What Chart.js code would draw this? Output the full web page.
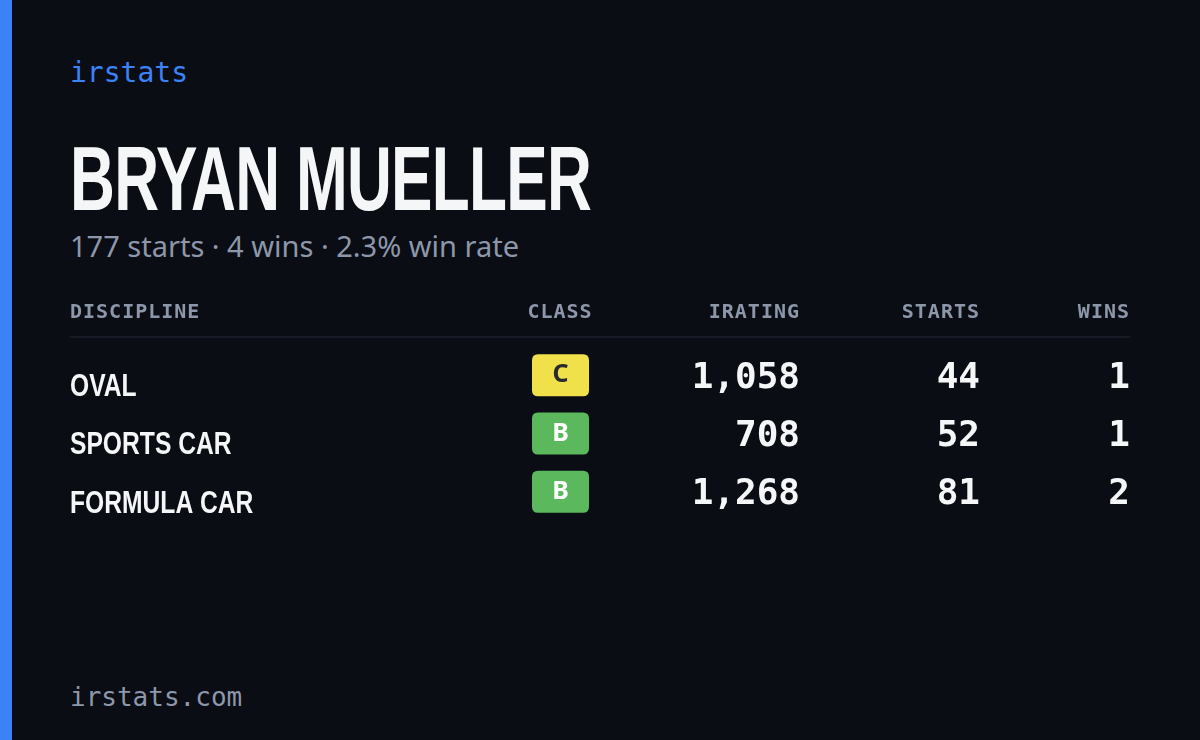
<!DOCTYPE html>
<html><head><meta charset="utf-8">
<script src="https://cdn.jsdelivr.net/npm/chart.js@4"></script>
<style>
body{margin:0;width:1200px;height:740px;background:#0a0d14;position:relative;overflow:hidden;font-family:"Noto Sans",sans-serif}
#strip{position:absolute;left:0;top:0;width:12px;height:740px;background:#3b82f6}
.brand{position:absolute;left:70px;top:56px;font:28px "DejaVu Sans Mono",monospace;color:#3b82f6}
.name{position:absolute;left:70px;top:128px;font:bold 90px "Liberation Sans Narrow","Liberation Sans",sans-serif;color:#f5f6f8;letter-spacing:-1px;transform:scaleX(0.69);transform-origin:left}
.sub{position:absolute;left:70px;top:226px;font:29px "Noto Sans",sans-serif;color:#8d97aa}
.foot{position:absolute;left:70px;top:682px;font:26px "DejaVu Sans Mono",monospace;color:#8d97aa}
#wrap{position:absolute;left:70px;top:290px;width:1060px;height:240px}
</style></head><body>
<div id="strip"></div>
<div class="brand">irstats</div>
<div class="name">BRYAN MUELLER</div>
<div class="sub">177 starts · 4 wins · 2.3% win rate</div>
<div id="wrap"><canvas id="mycanvas" width="1060" height="240" style="width:1060px;height:240px"></canvas></div>
<div class="foot">irstats.com</div>
<script>
var disciplines = ["OVAL", "SPORTS CAR", "FORMULA CAR"];
var classes = ["C", "B", "B"];
var iratings = [1058, 708, 1268];
var starts = [44, 52, 81];
var wins = [1, 1, 2];
var headers = ["DISCIPLINE", "CLASS", "IRATING", "STARTS", "WINS"];

var classColors = {A: "#3b82f6", B: "#5cb85c", C: "#f0e04a", D: "#f0a030", R: "#e05050"};
var classText = {A: "#ffffff", B: "#ffffff", C: "#2a2a2a", D: "#2a2a2a", R: "#ffffff"};

function rrect(ctx, x, y, w, h, r) {
  ctx.beginPath();
  ctx.moveTo(x + r, y); ctx.lineTo(x + w - r, y); ctx.quadraticCurveTo(x + w, y, x + w, y + r);
  ctx.lineTo(x + w, y + h - r); ctx.quadraticCurveTo(x + w, y + h, x + w - r, y + h);
  ctx.lineTo(x + r, y + h); ctx.quadraticCurveTo(x, y + h, x, y + h - r);
  ctx.lineTo(x, y + r); ctx.quadraticCurveTo(x, y, x + r, y);
  ctx.closePath();
}

var tablePlugin = {
  id: "table",
  afterDraw: function(chart) {
    var ctx = chart.ctx;
    var y = chart.scales.y;
    ctx.save();
    // headers
    ctx.font = "bold 20px 'DejaVu Sans Mono', monospace";
    ctx.fillStyle = "#8d97aa";
    ctx.textBaseline = "middle";
    if ("letterSpacing" in ctx) ctx.letterSpacing = "1px";
    ctx.textAlign = "left"; ctx.fillText(headers[0], 0, 23);
    ctx.textAlign = "center"; ctx.fillText(headers[1], 490, 23);
    ctx.textAlign = "right";
    ctx.fillText(headers[2], 730, 23);
    ctx.fillText(headers[3], 910, 23);
    ctx.fillText(headers[4], 1060, 23);
    if ("letterSpacing" in ctx) ctx.letterSpacing = "0px";
    ctx.strokeStyle = "#1c212c"; ctx.lineWidth = 1.5;
    ctx.beginPath(); ctx.moveTo(0, 47); ctx.lineTo(1060, 47); ctx.stroke();

    for (var i = 0; i < disciplines.length; i++) {
      var cy = y.getPixelForValue(i);
      ctx.fillStyle = "#f5f6f8";
      ctx.textAlign = "left";
      ctx.font = "bold 32px 'Liberation Sans Narrow', 'Liberation Sans', sans-serif";
      ctx.save(); ctx.translate(0, cy + 9); ctx.scale(0.77, 1);
      ctx.fillText(disciplines[i], 0, 0); ctx.restore();
      // badge
      ctx.fillStyle = classColors[classes[i]];
      rrect(ctx, 462, cy - 24, 57, 42, 6); ctx.fill();
      ctx.fillStyle = classText[classes[i]];
      ctx.font = "bold 25px 'Noto Sans', sans-serif";
      ctx.textAlign = "center";
      ctx.fillText(classes[i], 490.5, cy - 3);
      // numbers
      ctx.fillStyle = "#f5f6f8";
      ctx.font = "bold 36px 'DejaVu Sans Mono', monospace";
      ctx.textAlign = "right";
      ctx.fillText(iratings[i].toLocaleString("en-US"), 730, cy);
      ctx.fillText(String(starts[i]), 910, cy);
      ctx.fillText(String(wins[i]), 1060, cy);
    }
    ctx.restore();
  }
};

new Chart(document.getElementById("mycanvas"), {
  type: "bar",
  data: { labels: disciplines, datasets: [{ data: [0, 0, 0] }] },
  options: {
    indexAxis: "y", responsive: false, animation: false, devicePixelRatio: 1,
    layout: { padding: { top: 59, bottom: 6, left: 0, right: 0 } },
    plugins: { legend: { display: false }, tooltip: { enabled: false } },
    scales: { x: { display: false, min: 0, max: 1 }, y: { display: false } }
  },
  plugins: [tablePlugin]
});
</script>
</body></html>
